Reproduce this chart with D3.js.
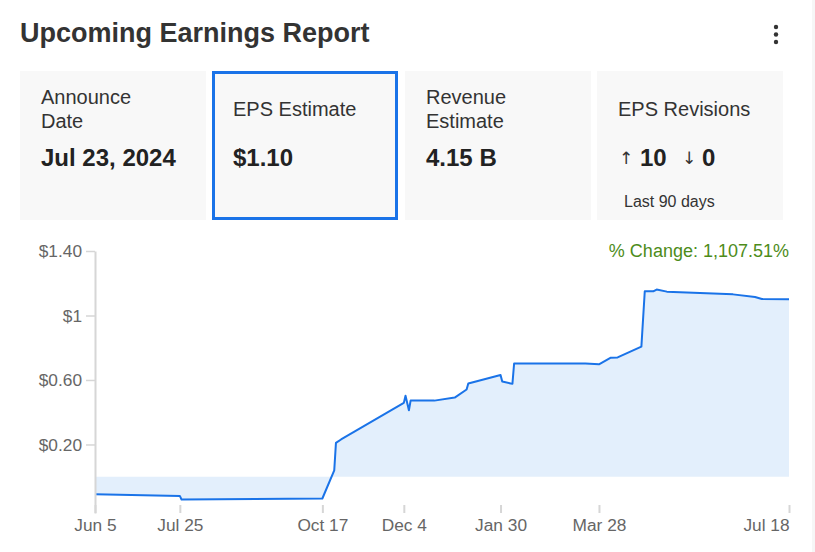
<!DOCTYPE html>
<html>
<head>
<meta charset="utf-8">
<script src="https://cdn.jsdelivr.net/npm/d3@7"></script>
<style>
  html, body { margin: 0; padding: 0; background: #fff; }
  svg { display: block; font-family: "Liberation Sans", Arial, sans-serif; }
</style>
</head>
<body>
<svg id="chart" width="815" height="552"></svg>
<script>
// ---- data ----
const dates = ["2023-06-05","2023-07-25","2023-07-26","2023-10-17","2023-10-24","2023-10-25","2023-10-28",
  "2023-12-04","2023-12-05","2023-12-07","2023-12-08","2023-12-22","2024-01-03","2024-01-10","2024-01-11",
  "2024-01-30","2024-01-31","2024-02-06","2024-02-07","2024-03-20","2024-03-28","2024-04-04","2024-04-08",
  "2024-04-22","2024-04-24","2024-04-29","2024-05-01","2024-05-07","2024-06-15","2024-06-28","2024-07-02","2024-07-18"];
const epsValues = [-0.109,-0.119,-0.141,-0.135,0.04,0.21,0.231,
  0.458,0.502,0.412,0.472,0.472,0.491,0.541,0.578,
  0.631,0.590,0.576,0.702,0.702,0.697,0.738,0.740,
  0.807,1.150,1.150,1.161,1.148,1.131,1.115,1.102,1.10];
const xTickDates = ["2023-06-05","2023-07-25","2023-10-17","2023-12-04","2024-01-30","2024-03-28","2024-07-18"];
const xTickLabels = ["Jun 5","Jul 25","Oct 17","Dec 4","Jan 30","Mar 28","Jul 18"];
const yTickValues = [0.2, 0.6, 1, 1.4];
const yTickLabels = ["$0.20","$0.60","$1","$1.40"];
const cardTitles = [["Announce","Date"],["EPS Estimate"],["Revenue","Estimate"],["EPS Revisions"]];
const cardValues = ["Jul 23, 2024","$1.10","4.15 B",""];
const revisionsUp = 10, revisionsDown = 0;
const titleText = "Upcoming Earnings Report";
const changeText = "% Change: 1,107.51%";

// ---- drawing ----
const svg = d3.select("#chart");
const parse = d3.timeParse("%Y-%m-%d");
const series = dates.map((d, i) => ({ date: parse(d), value: epsValues[i] }));

// right edge strip
svg.append("rect").attr("x", 812).attr("y", 0).attr("width", 3).attr("height", 552).attr("fill", "#f6f6f6");

// title
svg.append("text").attr("x", 20).attr("y", 42).attr("font-size", 27).attr("font-weight", "bold")
  .attr("fill", "#333").text(titleText);
[27, 34.5, 42].forEach(cy => svg.append("circle").attr("cx", 776).attr("cy", cy).attr("r", 2.2).attr("fill", "#333"));

// cards
const cardX = [20, 212, 405, 597];
const cardW = 186;
cardX.forEach((cx, i) => {
  const g = svg.append("g");
  if (i === 1) {
    g.append("rect").attr("x", cx + 1.5).attr("y", 72.5).attr("width", cardW - 3).attr("height", 146)
      .attr("fill", "#f8f8f8").attr("stroke", "#1a73e8").attr("stroke-width", 3);
  } else {
    g.append("rect").attr("x", cx).attr("y", 71).attr("width", cardW).attr("height", 149).attr("fill", "#f8f8f8");
  }
  const tx = cx + 21;
  const lines = cardTitles[i];
  lines.forEach((t, j) => {
    const yy = lines.length === 2 ? 104 + j * 24 : 116;
    g.append("text").attr("x", tx).attr("y", yy).attr("font-size", 20).attr("fill", "#333").text(t);
  });
  if (cardValues[i]) {
    g.append("text").attr("x", tx).attr("y", 166).attr("font-size", 24).attr("font-weight", "bold")
      .attr("fill", "#222").text(cardValues[i]);
  }
});
// revisions
svg.append("text").attr("x", 619).attr("y", 164).attr("font-size", 17).attr("fill", "#333")
  .attr("font-family", "DejaVu Sans, sans-serif").text("↑");
svg.append("text").attr("x", 640).attr("y", 166).attr("font-size", 24).attr("font-weight", "bold")
  .attr("fill", "#222").text(revisionsUp);
svg.append("text").attr("x", 682).attr("y", 164).attr("font-size", 17).attr("fill", "#333")
  .attr("font-family", "DejaVu Sans, sans-serif").text("↓");
svg.append("text").attr("x", 702).attr("y", 166).attr("font-size", 24).attr("font-weight", "bold")
  .attr("fill", "#222").text(revisionsDown);
svg.append("text").attr("x", 624).attr("y", 207).attr("font-size", 16).attr("fill", "#333").text("Last 90 days");

// chart
const x = d3.scaleTime().domain([parse("2023-06-05"), parse("2024-07-18")]).range([95, 789]);
const y = d3.scaleLinear().domain([-0.225, 1.4]).range([513, 251]);

const area = d3.area().x(d => x(d.date)).y0(y(0)).y1(d => y(d.value));
svg.append("path").datum(series).attr("d", area).attr("fill", "#e3effc");
const line = d3.line().x(d => x(d.date)).y(d => y(d.value));
svg.append("path").datum(series).attr("d", line).attr("fill", "none")
  .attr("stroke", "#1a73e8").attr("stroke-width", 2).attr("stroke-linejoin", "round");

// x axis
const xAxis = d3.axisBottom(x).tickValues(xTickDates.map(parse)).tickSize(8).tickPadding(6)
  .tickFormat((d, i) => xTickLabels[i]);
const gx = svg.append("g").attr("transform", "translate(0,505)").call(xAxis);
gx.select(".domain").remove();
gx.selectAll(".tick line").attr("stroke", "#d6d6d6").attr("stroke-width", 2);
gx.selectAll(".tick text").attr("font-size", 17.3).attr("fill", "#666").attr("font-family", "Liberation Sans, Arial, sans-serif")
  .attr("text-anchor", (d, i) => i === xTickLabels.length - 1 ? "end" : "middle");

// y axis
const yAxis = d3.axisLeft(y).tickValues(yTickValues).tickSize(9).tickSizeOuter(0).tickPadding(4)
  .tickFormat((d, i) => yTickLabels[i]);
const gy = svg.append("g").attr("transform", "translate(95,0)").call(yAxis);
gy.select(".domain").attr("stroke", "#d6d6d6").attr("stroke-width", 2);
gy.selectAll(".tick line").attr("stroke", "#d6d6d6").attr("stroke-width", 1.5);
gy.selectAll(".tick text").attr("font-size", 17.3).attr("fill", "#666").attr("font-family", "Liberation Sans, Arial, sans-serif");

// change label
svg.append("text").attr("x", 789).attr("y", 257).attr("text-anchor", "end").attr("font-size", 18)
  .attr("fill", "#4d8c1a").text(changeText);
</script>
</body>
</html>
